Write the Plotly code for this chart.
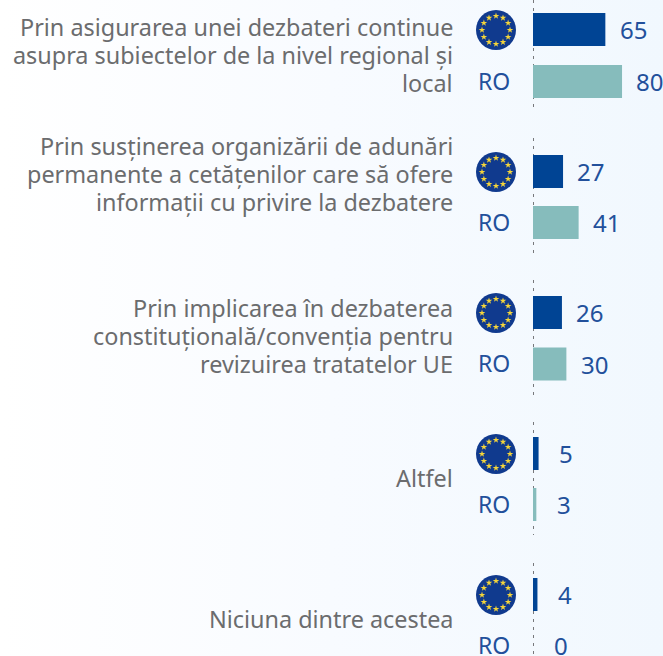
import math
import plotly.graph_objects as go

W, H = 663, 656
label_lines = [
    ["Prin asigurarea unei dezbateri continue", "asupra subiectelor de la nivel regional și", "local"],
    ["Prin susținerea organizării de adunări", "permanente a cetățenilor care să ofere", "informații cu privire la dezbatere"],
    ["Prin implicarea în dezbaterea", "constituțională/convenția pentru", "revizuirea tratatelor UE"],
    ["Altfel"],
    ["Niciuna dintre acestea"],
]
eu_values = [65, 27, 26, 5, 4]
ro_values = [80, 41, 30, 3, 0]
eu_rows = [29.5, 171.5, 312.5, 453.5, 594.5]
ro_rows = [81.5, 222.5, 364, 504.5, 645.5]
label_rows = [55, 174, 336, 478, 619]
axis_segments = [(0, 112), (138, 253), (280, 395), (422, 535), (563, 656)]

X0 = 533
PX = 1.113
LINE_H = 28
BLUE = "#004494"
TEAL = "#86bcbc"
TXT_BLUE = "#22509b"
TXT_GREY = "#6b6c6e"
FONT = "Noto Sans"

fig = go.Figure()

# background gradient
fig.add_trace(go.Scatter(
    x=[0, W, W, 0, 0], y=[0, 0, H, H, 0], xaxis="x", yaxis="y", mode="lines",
    line=dict(width=0), fill="toself", hoverinfo="skip", showlegend=False,
    fillgradient=dict(type="horizontal",
                      colorscale=[[0, "#ffffff"], [0.5, "#f8fbff"], [1, "#f1f8fe"]]),
))

# dotted axis segments
for a, b in axis_segments:
    fig.add_trace(go.Scatter(
        x=[X0 + 0.5, X0 + 0.5], y=[a, b], xaxis="x", yaxis="y", mode="lines",
        line=dict(color="#77787b", width=1, dash="3px 5px"),
        hoverinfo="skip", showlegend=False,
    ))

# EU flags
fig.add_trace(go.Scatter(
    x=[496] * 5, y=[r + 0.5 for r in eu_rows], xaxis="x", yaxis="y", mode="markers",
    marker=dict(size=40, color="#103a8e", line_width=0), hoverinfo="skip", showlegend=False,
))
sx, sy = [], []
for r in eu_rows:
    for k in range(12):
        t = math.radians(30 * k)
        sx.append(496 + 14 * math.sin(t))
        sy.append(r + 0.5 - 14 * math.cos(t))
fig.add_trace(go.Scatter(
    x=sx, y=sy, xaxis="x", yaxis="y", mode="markers",
    marker=dict(size=5, symbol="star", color="#f5d53a", line_width=0),
    hoverinfo="skip", showlegend=False,
))

fig.add_trace(go.Bar(x=eu_values, y=eu_rows, orientation="h", width=33,
                     marker=dict(color=BLUE, line_width=0), showlegend=False, xaxis="x2", yaxis="y"))
fig.add_trace(go.Bar(x=ro_values, y=ro_rows, orientation="h", width=33,
                     marker=dict(color=TEAL, line_width=0), showlegend=False, xaxis="x2", yaxis="y"))

ann = []
for lines, r in zip(label_lines, label_rows):
    top = r - LINE_H * (len(lines) - 1) / 2
    for i, line in enumerate(lines):
        ann.append(dict(text=line, x=455 / W, xref="paper", y=top + i * LINE_H, yref="y",
                        xanchor="right", yanchor="middle", align="right", showarrow=False,
                        font=dict(family=FONT, size=23.4, color=TXT_GREY)))
for r in ro_rows:
    ann.append(dict(text="RO", x=493.5 / W, xref="paper", y=r, yref="y", xanchor="center",
                    yanchor="middle", showarrow=False, yshift=1,
                    font=dict(family=FONT, size=23, color=TXT_BLUE)))
for vals, rows in ((eu_values, eu_rows), (ro_values, ro_rows)):
    for v, r in zip(vals, rows):
        ann.append(dict(text=str(v), x=v, xref="x2", xshift=27.7, y=r, yref="y",
                        xanchor="center", yanchor="middle", showarrow=False,
                        font=dict(family=FONT, size=24, color=TXT_BLUE)))

fig.update_layout(
    width=W, height=H, margin=dict(l=0, r=0, t=0, b=0),
    paper_bgcolor="#ffffff", plot_bgcolor="rgba(0,0,0,0)",
    barmode="overlay", showlegend=False, annotations=ann,
    xaxis=dict(range=[0, W], visible=False, domain=[0, 1]),
    xaxis2=dict(range=[-X0 / PX, (W - X0) / PX], visible=False, overlaying="x", domain=[0, 1]),
    yaxis=dict(range=[H, 0], visible=False, domain=[0, 1]),
)
fig.write_html("out.html", config=dict(displayModeBar=False),
               post_script="document.body.style.margin='0';")
